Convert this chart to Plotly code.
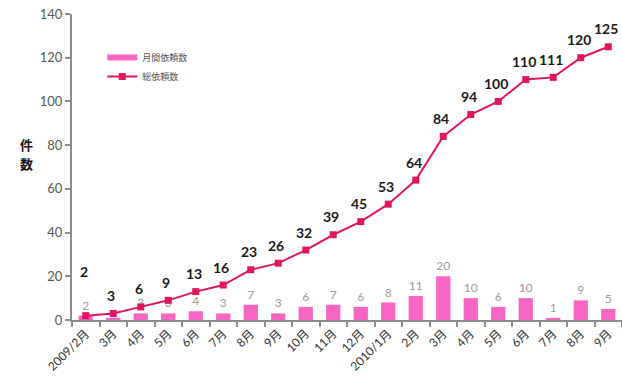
import plotly.graph_objects as go

months = ["2009/2月", "3月", "4月", "5月", "6月", "7月", "8月", "9月", "10月", "11月",
          "12月", "2010/1月", "2月", "3月", "4月", "5月", "6月", "7月", "8月", "9月"]
monthly = [2, 1, 3, 3, 4, 3, 7, 3, 6, 7, 6, 8, 11, 20, 10, 6, 10, 1, 9, 5]
cumulative = [2, 3, 6, 9, 13, 16, 23, 26, 32, 39, 45, 53, 64, 84, 94, 100, 110, 111, 120, 125]

FONT = "Lato, 'Noto Sans CJK JP', sans-serif"
BAR_COLOR = "#F766C3"
LINE_COLOR = "#E2165F"
AXIS_GRAY = "#8C8C8C"

xs = list(range(len(months)))
# the monthly label at the second month sits under the cumulative label
bar_text = [("" if i == 1 else str(v)) for i, v in enumerate(monthly)]

fig = go.Figure()
fig.add_trace(go.Bar(
    x=xs, y=monthly, name="月間依頼数", showlegend=False,
    marker=dict(color=BAR_COLOR, line=dict(width=0)),
    width=0.52,
    text=bar_text, textposition="outside", cliponaxis=False,
    textfont=dict(family=FONT, size=12, color="#9A9A9A"),
))
# flat swatch for the bar series in the legend
fig.add_trace(go.Scatter(
    x=[None], y=[None], name="月間依頼数", mode="lines",
    line=dict(color=BAR_COLOR, width=6),
))
fig.add_trace(go.Scatter(
    x=xs, y=cumulative, name="総依頼数", mode="lines+markers",
    line=dict(color=LINE_COLOR, width=2),
    marker=dict(symbol="square", size=7, color=LINE_COLOR),
    cliponaxis=False,
))

for i, v in enumerate(cumulative):
    fig.add_annotation(
        x=xs[i], y=v, text=f"<b>{v}</b>", showarrow=False,
        yshift=44 if i == 0 else 18, xshift=-2,
        font=dict(family=FONT, size=14, color="#1A1A1A"),
    )

for txt, ypos in (("件", 0.575), ("数", 0.51)):
    fig.add_annotation(
        xref="paper", yref="paper", x=-0.098, y=ypos,
        text=f"<b>{txt}</b>", showarrow=False,
        font=dict(family="'Noto Sans CJK JP', sans-serif", size=13, color="#111111"),
    )

fig.update_layout(
    width=622, height=381,
    margin=dict(l=72, r=0, t=14, b=61),
    plot_bgcolor="white", paper_bgcolor="white",
    bargap=0.45,
    showlegend=True,
    legend=dict(
        x=0.055, y=0.905, xanchor="left", yanchor="top",
        font=dict(family=FONT, size=9, color="#555555"),
        bgcolor="rgba(0,0,0,0)", itemwidth=30, tracegroupgap=0,
    ),
)
fig.update_xaxes(
    range=[-0.5, len(months) - 0.5],
    tickmode="array", tickvals=xs, ticktext=months, tickangle=-45,
    ticks="", showgrid=False, zeroline=False,
    showline=True, linecolor=AXIS_GRAY, linewidth=2,
    tickfont=dict(family=FONT, size=12, color="#333333"),
    minor=dict(tickmode="array", tickvals=[i - 0.5 for i in range(len(months) + 1)],
               ticks="outside", ticklen=5, tickcolor=AXIS_GRAY, tickwidth=2),
)
fig.update_yaxes(
    range=[0, 140], dtick=20, showgrid=False, zeroline=False,
    showline=True, linecolor=AXIS_GRAY, linewidth=2,
    ticks="outside", ticklen=5, tickcolor=AXIS_GRAY, tickwidth=2,
    tickfont=dict(family=FONT, size=13, color="#595959"),
)

fig.write_html("out.html")
